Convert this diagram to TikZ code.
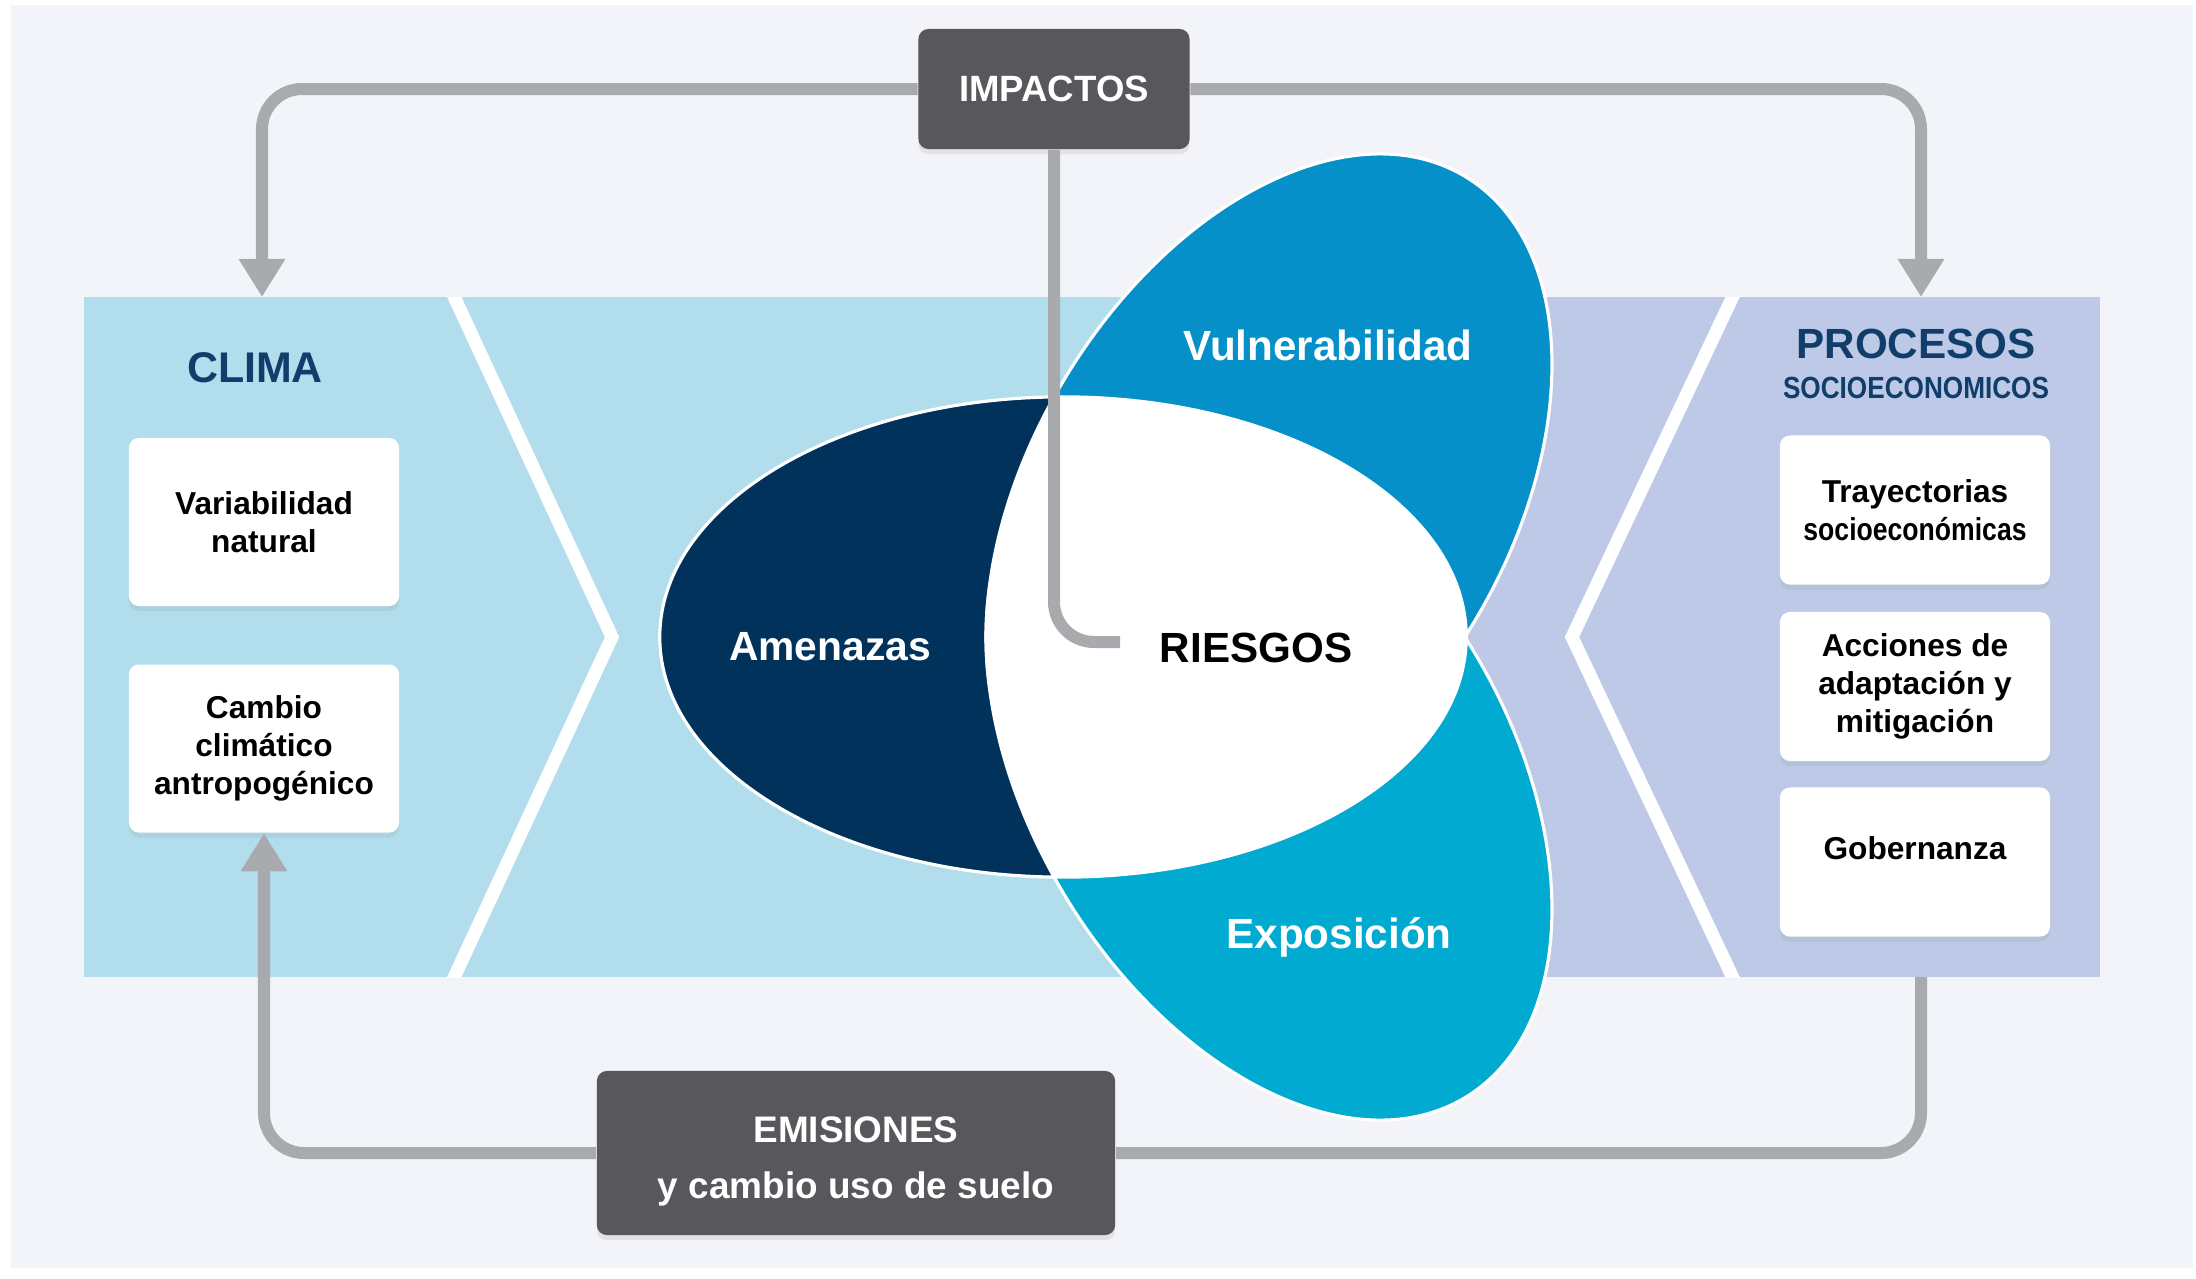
\documentclass[tikz,border=0pt]{standalone}
\usepackage{fontspec}
\setmainfont{Liberation Sans}
\usepackage{graphicx}
\usepackage{tikz}
\usetikzlibrary{arrows.meta,positioning,shadows}

\definecolor{fondo}{HTML}{F2F4F9}
\definecolor{celeste}{HTML}{B2DDEC}
\definecolor{lavanda}{HTML}{BDC9E6}
\definecolor{marino}{HTML}{00325B}
\definecolor{azul}{HTML}{0590C9}
\definecolor{cian}{HTML}{00AAD0}
\definecolor{gris}{HTML}{A9AAAE}
\definecolor{grisosc}{HTML}{58585C}
\definecolor{tinta}{HTML}{113D6B}

\newcommand{\angosto}[2][0.84]{\scalebox{#1}[1]{#2}}

\begin{document}
\begin{tikzpicture}[x=0.01cm,y=-0.01cm,>={Triangle[width=0.44cm,length=0.38cm]},
                    font=\bfseries]
  \tikzstyle{caja}=[fill=white,rounded corners=0.1cm,minimum width=2.7cm,align=center,
                    font=\bfseries\fontsize{9}{10.9}\selectfont,
                    drop shadow={opacity=0.12,shadow xshift=0pt,shadow yshift=-0.05cm}]
  \tikzstyle{oscura}=[fill=grisosc,text=white,rounded corners=0.1cm,align=center,
                    drop shadow={opacity=0.15,shadow xshift=0pt,shadow yshift=-0.05cm}]
  \tikzstyle{conector}=[draw=gris,line width=0.12cm,rounded corners=0.4cm]
  \tikzstyle{franja}=[draw=white,line width=0.13cm]
  \tikzstyle{titulo}=[text=tinta,anchor=base,inner sep=0pt]
  \tikzstyle{petalo}=[text=white,anchor=base,inner sep=0pt,
                    font=\bfseries\fontsize{12}{14}\selectfont]
  \tikzstyle{borde}=[draw=white,line width=0.9pt]

  \useasboundingbox (0,0) rectangle (2196,1278);
  \fill[white] (0,0) rectangle (2196,1278);
  \fill[fondo] (11,5) rectangle (2193,1268);

  % banda
  \fill[celeste] (84,297) rectangle (1460,977);
  \fill[lavanda] (1460,297) rectangle (2100,977);
  \begin{scope}
    \clip (84,297) rectangle (2100,977);
    \draw[franja] (445,277) -- (612,637) -- (445,997);
    \draw[franja] (1742,277) -- (1572,637) -- (1742,997);
  \end{scope}

  % petalos
  \fill[azul,rotate around={58.8:(1269,501)}] (1269,501) ellipse [x radius=3.79cm,y radius=2.38cm];
  \fill[cian,rotate around={-58.8:(1269,773)}] (1269,773) ellipse [x radius=3.79cm,y radius=2.38cm];
  \fill[marino] (1063,637) ellipse [x radius=4.03cm,y radius=2.40cm];
  \begin{scope}
    \clip (1063,637) ellipse [x radius=4.03cm,y radius=2.40cm];
    \fill[white,rotate around={58.8:(1269,501)}] (1269,501) ellipse [x radius=3.79cm,y radius=2.38cm];
    \fill[white,rotate around={-58.8:(1269,773)}] (1269,773) ellipse [x radius=3.79cm,y radius=2.38cm];
  \end{scope}
  \draw[borde,rotate around={58.8:(1269,501)}] (1269,501) ellipse [x radius=3.79cm,y radius=2.38cm];
  \draw[borde,rotate around={-58.8:(1269,773)}] (1269,773) ellipse [x radius=3.79cm,y radius=2.38cm];
  \draw[borde] (1063,637) ellipse [x radius=4.03cm,y radius=2.40cm];

  % cajas
  \node[titulo,font=\bfseries\fontsize{12.2}{14}\selectfont] (clima) at (255,382) {CLIMA};
  \node[caja,minimum height=1.68cm] (variabilidad) at (264,522) {Variabilidad\\natural};
  \node[caja,minimum height=1.68cm,below=0.57cm of variabilidad] (cambio) {Cambio\\climático\\antropogénico};

  \node[titulo,font=\bfseries\fontsize{12}{14}\selectfont] (procesos) at (1916,358) {PROCESOS};
  \node[titulo,font=\bfseries\fontsize{8.7}{10}\selectfont] (socio) at (1916,398) {\angosto[0.855]{SOCIOECONOMICOS}};
  \node[caja,minimum height=1.49cm] (trayectorias) at (1915,510) {Trayectorias\\\angosto{socioeconómicas}};
  \node[caja,minimum height=1.49cm,below=0.26cm of trayectorias] (acciones) {Acciones de\\adaptación y\\mitigación};
  \node[caja,minimum height=1.49cm,below=0.25cm of acciones] (gobernanza) {Gobernanza\rule[-0.28cm]{0pt}{0.28cm}};

  \node[oscura,minimum width=2.71cm,minimum height=1.2cm,
        font=\bfseries\fontsize{10.4}{12}\selectfont] (impactos) at (1054,89) {IMPACTOS};
  \node[oscura,minimum width=5.18cm,minimum height=1.64cm,
        font=\bfseries\fontsize{10.5}{16}\selectfont] (emisiones) at (856,1153)
        {\rule{0pt}{0.42cm}EMISIONES\\y cambio uso de suelo};

  % conectores
  \coordinate (clima-in) at (262,297);
  \coordinate (procesos-in) at (1921,297);
  \coordinate (procesos-out) at (1921,977);
  \coordinate (riesgos-in) at (1120,642);

  \draw[conector,->] (impactos) -| (clima-in);
  \draw[conector,->] (impactos) -| (procesos-in);
  \draw[conector] (impactos) |- (riesgos-in);
  \draw[conector] (procesos-out) |- (emisiones);
  \draw[conector,->] (emisiones) -| (cambio);

  % etiquetas
  \node[petalo] (vulnerabilidad) at (1328,360) {Vulnerabilidad};
  \node[petalo,font=\bfseries\fontsize{11.6}{13}\selectfont] (amenazas) at (830,660) {Amenazas};
  \node[petalo] (exposicion) at (1339,948) {Exposición};
  \node[petalo,text=black] (riesgos) at (1256,662) {RIESGOS};
\end{tikzpicture}
\end{document}
